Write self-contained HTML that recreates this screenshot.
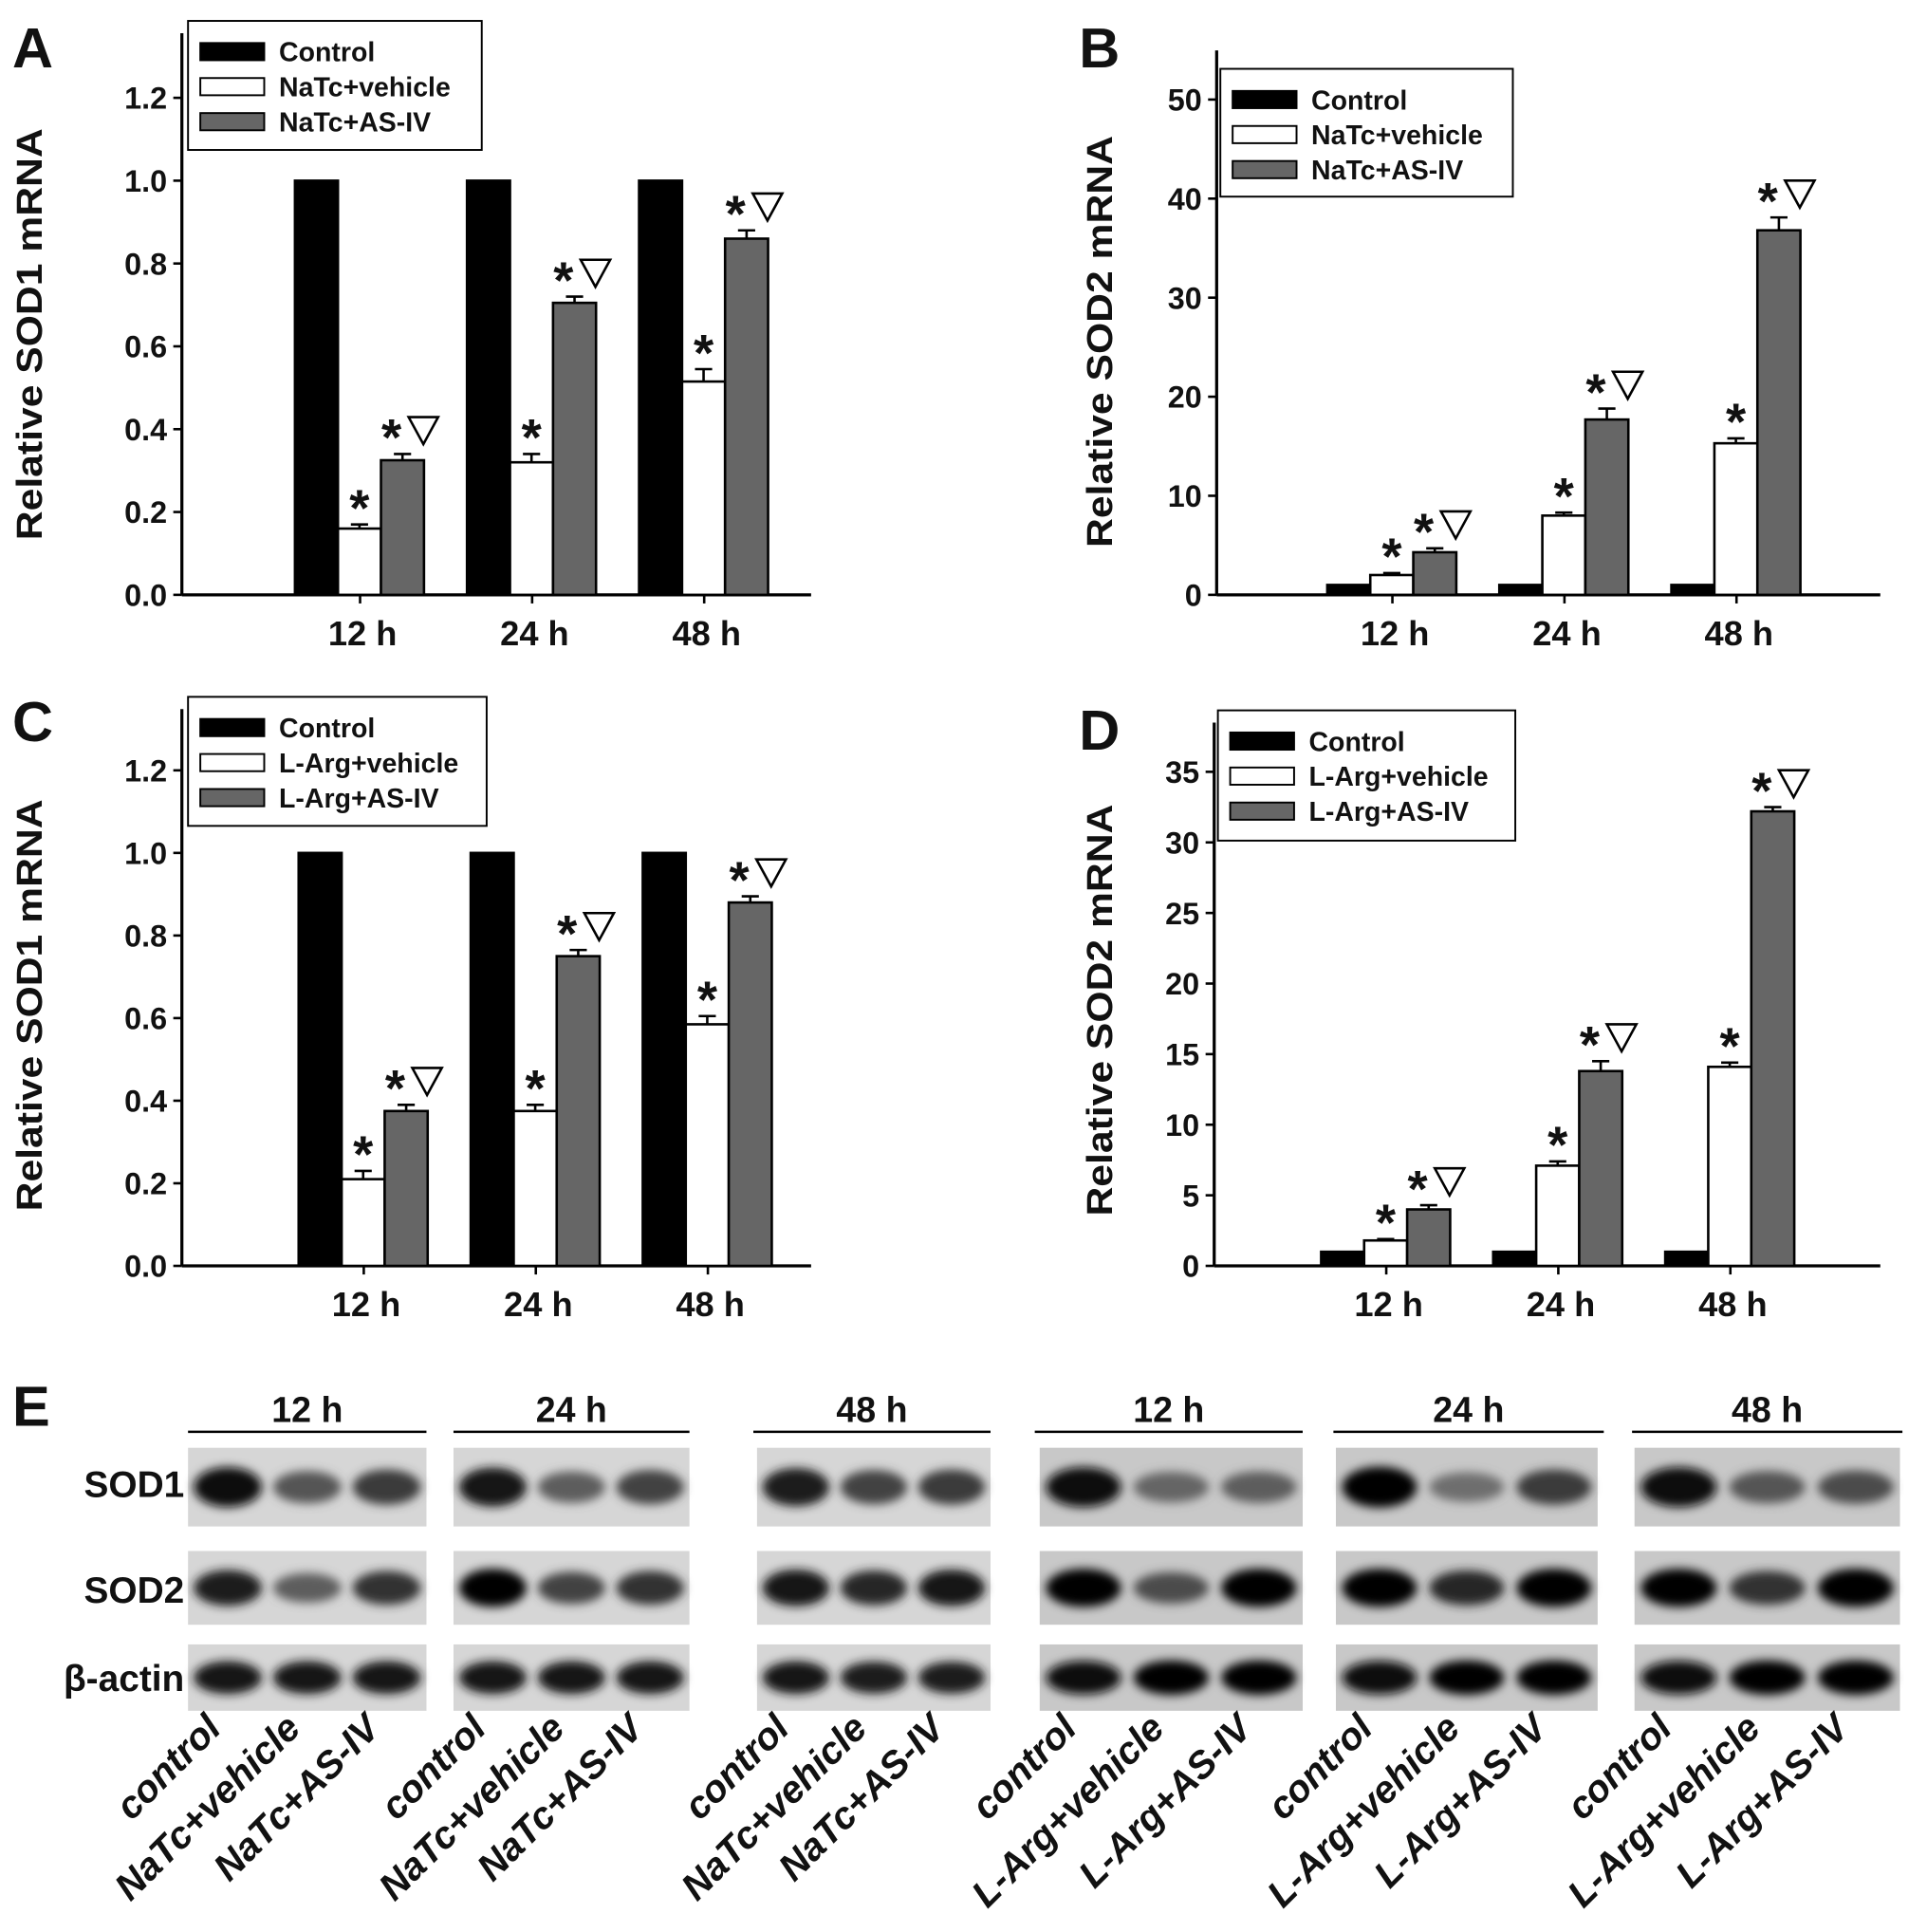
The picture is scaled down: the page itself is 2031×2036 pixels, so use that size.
<!DOCTYPE html>
<html><head><meta charset="utf-8"><style>
html,body{margin:0;padding:0;background:#fff}
svg{display:block}
text{font-family:"Liberation Sans",sans-serif;font-weight:bold;fill:#111}
</style></head><body>
<svg id="fig" width="2031" height="2036" viewBox="0 0 1568 1572" preserveAspectRatio="none" xmlns="http://www.w3.org/2000/svg">
<defs><filter id="blur" x="-20%" y="-50%" width="140%" height="200%"><feGaussianBlur stdDeviation="4"/></filter></defs>
<g id="charts"></g>
<g id="blots"></g>
</svg>
<script>
const NS="http://www.w3.org/2000/svg";
const categories=["12 h","24 h","48 h"];
const aControl=[1,1,1], aVehicle=[0.16,0.32,0.515], aAS=[0.325,0.705,0.86];
const aVehErr=[0.01,0.02,0.03], aASErr=[0.015,0.015,0.02];
const aTicks=["0.0","0.2","0.4","0.6","0.8","1.0","1.2"];
const bControl=[1,1,1], bVehicle=[2,8,15.3], bAS=[4.3,17.7,36.8];
const bVehErr=[0.2,0.3,0.5], bASErr=[0.4,1.1,1.3];
const bTicks=["0","10","20","30","40","50"];
const cControl=[1,1,1], cVehicle=[0.21,0.375,0.585], cAS=[0.375,0.75,0.88];
const cVehErr=[0.02,0.015,0.02], cASErr=[0.015,0.015,0.015];
const cTicks=["0.0","0.2","0.4","0.6","0.8","1.0","1.2"];
const dControl=[1,1,1], dVehicle=[1.8,7.1,14.1], dAS=[4.0,13.8,32.2];
const dVehErr=[0.1,0.3,0.3], dASErr=[0.3,0.7,0.3];
const dTicks=["0","5","10","15","20","25","30","35"];

function mk(tag,attrs,parent,txt){const e=document.createElementNS(NS,tag);for(const k in attrs)e.setAttribute(k,attrs[k]);if(txt!==undefined)e.textContent=txt;parent.appendChild(e);return e;}
const root=document.getElementById('charts');

const panels=[
 {id:'a',letter:'A',lx:10,ly:55,ax:148,base:484,top:147,topVal:1.0,xEnd:660,c0:293,ctl:aControl,veh:aVehicle,as:aAS,ve:aVehErr,ae:aASErr,ticks:aTicks,title:'Relative SOD1 mRNA',tx:24,ty:272,leg:[153,17,239,105],names:['Control','NaTc+vehicle','NaTc+AS-IV']},
 {id:'b',letter:'B',lx:878,ly:55,ax:990,base:484,top:81,topVal:50,xEnd:1530,c0:1133,ctl:bControl,veh:bVehicle,as:bAS,ve:bVehErr,ae:bASErr,ticks:bTicks,title:'Relative SOD2 mRNA',tx:895,ty:278,leg:[993,56,238,104],names:['Control','NaTc+vehicle','NaTc+AS-IV']},
 {id:'c',letter:'C',lx:10,ly:603,ax:148,base:1030,top:694,topVal:1.0,xEnd:660,c0:296,ctl:cControl,veh:cVehicle,as:cAS,ve:cVehErr,ae:cASErr,ticks:cTicks,title:'Relative SOD1 mRNA',tx:24,ty:818,leg:[153,567,243,105],names:['Control','L-Arg+vehicle','L-Arg+AS-IV']},
 {id:'d',letter:'D',lx:878,ly:610,ax:988,base:1030,top:628,topVal:35,xEnd:1530,c0:1128,ctl:dControl,veh:dVehicle,as:dAS,ve:dVehErr,ae:dASErr,ticks:dTicks,title:'Relative SOD2 mRNA',tx:895,ty:822,leg:[991,578,242,106],names:['Control','L-Arg+vehicle','L-Arg+AS-IV']}
];
panels.forEach(p=>{
 const g=mk('g',{},root);
 
 
 const y=v=>p.base-(v/p.topVal)*(p.base-p.top);
 const yTop=y(Number(p.ticks[p.ticks.length-1]))-40;
 const L=mk('text',{x:p.lx,y:p.ly,'font-size':46},g,p.letter);
 
 
 const yax=mk('line',{x1:p.ax,y1:Math.min(yTop,p.leg[1]+10),x2:p.ax,y2:p.base,stroke:'#000','stroke-width':2.5},g);
 
 
 const xax=mk('line',{x1:p.ax,y1:p.base,x2:p.xEnd,y2:p.base,stroke:'#000','stroke-width':2.5},g);
 
 
 p.ticks.forEach(t=>{const yy=y(Number(t));
  mk('line',{x1:p.ax-7,y1:yy,x2:p.ax,y2:yy,stroke:'#000','stroke-width':2},g);
  const tl=mk('text',{x:p.ax-12,y:yy+9,'font-size':25,'text-anchor':'end'},g,t);
  
  
 });
 const tt=mk('text',{x:0,y:0,'font-size':29,'text-anchor':'middle',textLength:335,lengthAdjust:'spacingAndGlyphs',transform:`translate(${p.tx+10},${p.ty}) rotate(-90)`},g,p.title);
 
 
 const bw=35;
 categories.forEach((c,i)=>{
  const cx=p.c0+i*140;
  mk('line',{x1:cx,y1:p.base,x2:cx,y2:p.base+7,stroke:'#000','stroke-width':2},g);
  const xl=mk('text',{x:cx+2,y:p.base+41,'font-size':28,'text-anchor':'middle'},g,c);
  
  
  const series=[[p.ctl,'#000',null],[p.veh,'#fff',p.ve],[p.as,'#666',p.ae]];
  series.forEach((s,j)=>{
   const v=s[0][i];
   const xx=cx-53+j*bw;
   if(s[2]){const ey=y(v+s[2][i]);
    mk('line',{x1:xx+bw/2,y1:ey,x2:xx+bw/2,y2:y(v),stroke:'#000','stroke-width':2},g);
    mk('line',{x1:xx+bw/2-7,y1:ey,x2:xx+bw/2+7,y2:ey,stroke:'#000','stroke-width':2},g);}
   const r=mk('rect',{x:xx,y:y(v),width:bw,height:p.base-y(v),fill:s[1],stroke:'#000','stroke-width':2},g);
   
   
   if(j>0){const ey=y(v+s[2][i]);
    const st=mk('text',{x:xx+bw/2-(j==2?9:0),y:ey+1,'font-size':42,'text-anchor':'middle'},g,'*');
    
    
    if(j==2){const tx=xx+bw/2+17, ty=ey-19;
     const tri=mk('polygon',{points:`${tx-12},${ty-11} ${tx+12},${ty-11} ${tx},${ty+11}`,fill:'none',stroke:'#000','stroke-width':2},g);
     
     }
   }
  });
 });
 const [lx,ly,lw,lh]=p.leg;
 const lg=mk('g',{},g);
 
 
 mk('rect',{x:lx,y:ly,width:lw,height:lh,fill:'#fff',stroke:'#000','stroke-width':1.5},lg);
 ['#000','#fff','#666'].forEach((col,k)=>{const yy=ly+25+k*28.5;
  mk('rect',{x:lx+10,y:yy-7,width:52,height:14,fill:col,stroke:'#000','stroke-width':1.5},lg);
  const lt=mk('text',{x:lx+74,y:yy+8,'font-size':22},lg,p.names[k]);
  
  
 });
});

// Western blots
const groupHeaders=["12 h","24 h","48 h","12 h","24 h","48 h"];
const sod1Band=[[0.95,0.55,0.7],[0.9,0.5,0.65],[0.85,0.65,0.7],[0.95,0.45,0.5],[1,0.4,0.7],[0.95,0.55,0.6]];
const sod2Band=[[0.85,0.5,0.75],[1,0.65,0.75],[0.9,0.8,0.9],[1,0.6,1],[1,0.8,1],[1,0.75,1]];
const actinBand=[[0.9,0.9,0.9],[0.9,0.9,0.9],[0.9,0.85,0.85],[0.95,1,1],[0.95,1,1],[0.95,1,1]];
const bl=document.getElementById('blots');
const bx=[[153,347],[369,561],[616,806],[846,1060],[1087,1300],[1330,1546]];
const lineX=[[153,347],[369,561],[613,806],[842,1060],[1085,1305],[1328,1548]];
const E=mk('text',{x:10,y:1160,'font-size':46},bl,'E');


const rows=[[1178,1242,sod1Band,'SOD1',1218],[1262,1322,sod2Band,'SOD2',1304],[1338,1392,actinBand,'β-actin',1376]];
rows.forEach(r=>{const t=mk('text',{x:150,y:r[4],'font-size':30,'text-anchor':'end'},bl,r[3]);
 
 });
bx.forEach((b,gi)=>{
 const [x0,x1]=b, w=x1-x0;
 const h=mk('text',{x:(lineX[gi][0]+lineX[gi][1])/2,y:1157,'font-size':29,'text-anchor':'middle'},bl,groupHeaders[gi]);
 
 
 mk('line',{x1:lineX[gi][0],y1:1165,x2:lineX[gi][1],y2:1165,stroke:'#000','stroke-width':2},bl);
 rows.forEach(r=>{
  const bg=mk('rect',{x:x0,y:r[0],width:w,height:r[1]-r[0],fill:gi<3?'#d6d6d6':'#c8c8c8'},bl);
  
  
  for(let k=0;k<3;k++){const inten=r[2][gi][k];
   const cx=x0+w*(k*2+1)/6, cy=(r[0]+r[1])/2;
   const g=Math.round(180-inten*175);
   mk('ellipse',{cx:cx,cy:cy,rx:w/7,ry:(r[1]-r[0])*0.2*(0.7+inten*0.6),fill:`rgb(${g},${g},${g})`,filter:'url(#blur)'},bl);}
 });
 const names=gi<3?['control','NaTc+vehicle','NaTc+AS-IV']:['control','L-Arg+vehicle','L-Arg+AS-IV'];
 names.forEach((n,k)=>{const cx=x0+w*(k*2+1)/6-4;
  const t=mk('text',{x:0,y:0,'font-size':31,'font-style':'italic','text-anchor':'end',transform:`translate(${cx},${1408}) rotate(-45)`},bl,n);
  
  });
});
</script>
</body></html>
